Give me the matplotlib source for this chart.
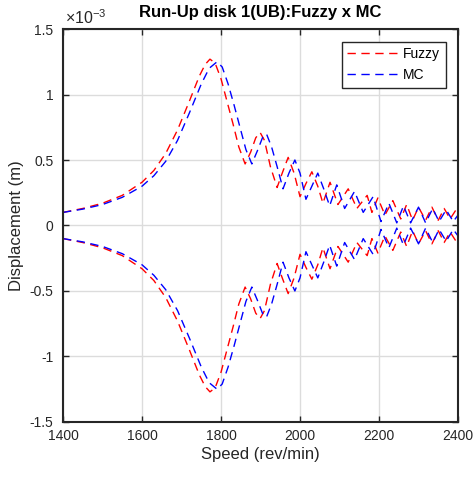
import numpy as np
import matplotlib
matplotlib.use('Agg')
import matplotlib.pyplot as plt

plt.rcParams['font.family'] = ['Liberation Sans', 'DejaVu Sans']
plt.rcParams['mathtext.fontset'] = 'custom'
plt.rcParams['mathtext.rm'] = 'Liberation Sans'
plt.rcParams['mathtext.it'] = 'Liberation Sans'

# Upper envelope of the run-up response (x 1e-3 m); lower envelope is its mirror
speed_fuzzy = [1400, 1450, 1500, 1550, 1600, 1630, 1660, 1690, 1720, 1745, 1760,
               1772, 1785, 1800, 1815, 1830, 1845, 1861, 1875, 1888, 1899, 1910,
               1925, 1942, 1955, 1970, 1985, 2000, 2015, 2030, 2045, 2058, 2076,
               2096, 2122, 2144, 2170, 2182, 2197, 2215, 2235, 2255, 2270, 2285,
               2300, 2318, 2334, 2350, 2365, 2380, 2395, 2400]
disp_fuzzy = [0.10, 0.13, 0.17, 0.23, 0.33, 0.42, 0.55, 0.73, 0.95, 1.14, 1.23,
              1.27, 1.24, 1.12, 0.95, 0.78, 0.60, 0.47, 0.56, 0.67, 0.71, 0.65,
              0.45, 0.29, 0.40, 0.52, 0.40, 0.22, 0.32, 0.41, 0.30, 0.17, 0.33,
              0.16, 0.28, 0.13, 0.23, 0.10, 0.21, 0.08, 0.19, 0.05, 0.16, 0.04,
              0.14, 0.04, 0.14, 0.04, 0.13, 0.05, 0.12, 0.10]

speed_mc = [1400, 1450, 1500, 1550, 1600, 1630, 1660, 1690, 1720, 1750, 1770,
            1790, 1803, 1818, 1833, 1848, 1863, 1878, 1892, 1905, 1915, 1928,
            1942, 1957, 1972, 1987, 2000, 2015, 2030, 2045, 2060, 2075, 2093,
            2113, 2138, 2160, 2185, 2205, 2225, 2245, 2262, 2280, 2300, 2318,
            2336, 2352, 2370, 2388, 2400]
disp_mc = [0.10, 0.125, 0.16, 0.215, 0.30, 0.38, 0.49, 0.65, 0.86, 1.08, 1.20,
           1.25, 1.21, 1.08, 0.92, 0.75, 0.58, 0.47, 0.57, 0.67, 0.70, 0.60,
           0.45, 0.28, 0.40, 0.50, 0.40, 0.20, 0.30, 0.40, 0.28, 0.15, 0.31,
           0.13, 0.26, 0.10, 0.22, 0.03, 0.17, 0.02, 0.15, 0.02, 0.14, 0.02,
           0.13, 0.03, 0.12, 0.03, 0.08]

x_ticks = [1400, 1600, 1800, 2000, 2200, 2400]
y_ticks = [-1.5, -1, -0.5, 0, 0.5, 1, 1.5]
y_labels = ['-1.5', '-1', '-0.5', '0', '0.5', '1', '1.5']

fig = plt.figure(figsize=(4.76, 4.78), dpi=100)
ax = fig.add_axes([0.1324, 0.1172, 0.8298, 0.8221])

sf, df = np.array(speed_fuzzy), np.array(disp_fuzzy)
sm, dm = np.array(speed_mc), np.array(disp_mc)
dash = (0, (6, 4))
ax.plot(sf, df, color='red', linestyle=dash, lw=1.0, label='Fuzzy')
ax.plot(sm, dm, color='blue', linestyle=dash, lw=1.0, label='MC')
ax.plot(sf, -df, color='red', linestyle=dash, lw=1.0)
ax.plot(sm, -dm, color='blue', linestyle=dash, lw=1.0)

ax.set_xlim(1400, 2400)
ax.set_ylim(-1.5, 1.5)
ax.set_xticks(x_ticks)
ax.set_yticks(y_ticks)
ax.set_yticklabels(y_labels)
ax.grid(True, color='#dcdcdc', linewidth=1.0)
ax.set_axisbelow(True)
ax.tick_params(direction='in', length=4, width=1, top=True, right=True,
               labelsize=10, colors='#262626')
ax.tick_params(axis='y', pad=7)
ax.tick_params(axis='x', pad=5)
for s in ax.spines.values():
    s.set_linewidth(1.5)
    s.set_color('#262626')

ax.set_xlabel('Speed (rev/min)', fontsize=12, color='#262626', labelpad=3)
ax.set_ylabel('Displacement (m)', fontsize=12, color='#262626', labelpad=4)
ax.set_title('Run-Up disk 1(UB):Fuzzy x MC', fontsize=12, fontweight='bold', pad=9)
ax.text(0.005, 1.006, r'$\times10^{-3}$', transform=ax.transAxes, fontsize=11.5,
        color='#262626', ha='left', va='bottom')

leg = ax.legend(loc='upper right', fontsize=10, fancybox=False, framealpha=1,
                edgecolor='#262626', borderaxespad=0.9, handlelength=3.6,
                handletextpad=0.4)
leg.get_frame().set_linewidth(1.0)

fig.savefig('out.png', dpi=100)
